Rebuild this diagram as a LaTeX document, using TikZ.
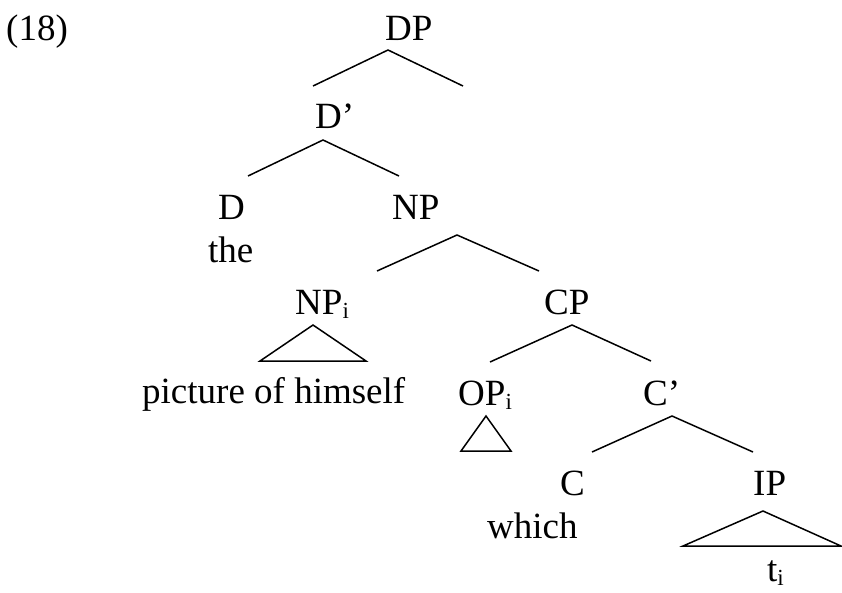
\documentclass[tikz,border=0pt]{standalone}
\usepackage{fontspec}
\setmainfont{Liberation Serif}
\newcommand{\sbi}{{\fontsize{23}{23}\selectfont\raisebox{-4.5pt}[0pt][0pt]{i}}}
\begin{document}
\begin{tikzpicture}[x=1pt,y=-1pt,
  lbl/.style={anchor=base west,inner sep=0pt,font=\fontsize{37}{37}\selectfont},
  branch/.style={line width=1.5pt,line join=miter},
  roof/.style={line width=1.5pt,line join=miter}]
\useasboundingbox (0,0) rectangle (842,592);

% example number
\node[lbl] (num) at (6,40) {(18)};

% labels
\node[lbl] (DP) at (385,40) {DP};
\node[lbl] (Dbar) at (315,128) {D’};
\node[lbl] (D) at (218,219) {D};
\node[lbl] (the) at (208,262) {the};
\node[lbl] (NP) at (392,219) {NP};
\node[lbl] (NPi) at (295,314) {NP\sbi};
\node[lbl] (CP) at (544,314) {CP};
\node[lbl] (pic) at (142,403) {picture of himself};
\node[lbl] (OPi) at (458,405) {OP\sbi};
\node[lbl] (Cbar) at (643,405) {C’};
\node[lbl] (C) at (560,495) {C};
\node[lbl] (which) at (487,538) {which};
\node[lbl] (IP) at (753,495) {IP};
\node[lbl,text depth=0pt] (ti) at (767,581) {t\sbi};

% branch points
\coordinate (dpA) at (388,50);  \coordinate (dpL) at (313,86);  \coordinate (dpR) at (463,86);
\coordinate (dbA) at (323,140); \coordinate (dbL) at (248,176); \coordinate (dbR) at (399,176);
\coordinate (npA) at (457,235); \coordinate (npL) at (377,271); \coordinate (npR) at (539,271);
\coordinate (cpA) at (572,325); \coordinate (cpL) at (490,362); \coordinate (cpR) at (651,361);
\coordinate (cbA) at (672,416); \coordinate (cbL) at (592,452); \coordinate (cbR) at (753,452);

% roofs
\coordinate (t1A) at (313,325); \coordinate (t1L) at (260,361); \coordinate (t1R) at (366,361);
\coordinate (t2A) at (486,416); \coordinate (t2L) at (461,451); \coordinate (t2R) at (511,451);
\coordinate (t3A) at (763,511); \coordinate (t3L) at (683,546); \coordinate (t3R) at (841,546);

\draw[branch] (dpL) -- (dpA) -- (dpR);
\draw[branch] (dbL) -- (dbA) -- (dbR);
\draw[branch] (npL) -- (npA) -- (npR);
\draw[branch] (cpL) -- (cpA) -- (cpR);
\draw[branch] (cbL) -- (cbA) -- (cbR);

\draw[roof] (t1A) -- (t1L) -- (t1R) -- cycle;
\draw[roof] (t2A) -- (t2L) -- (t2R) -- cycle;
\draw[roof] (t3A) -- (t3L) -- (t3R) -- cycle;
\end{tikzpicture}
\end{document}
